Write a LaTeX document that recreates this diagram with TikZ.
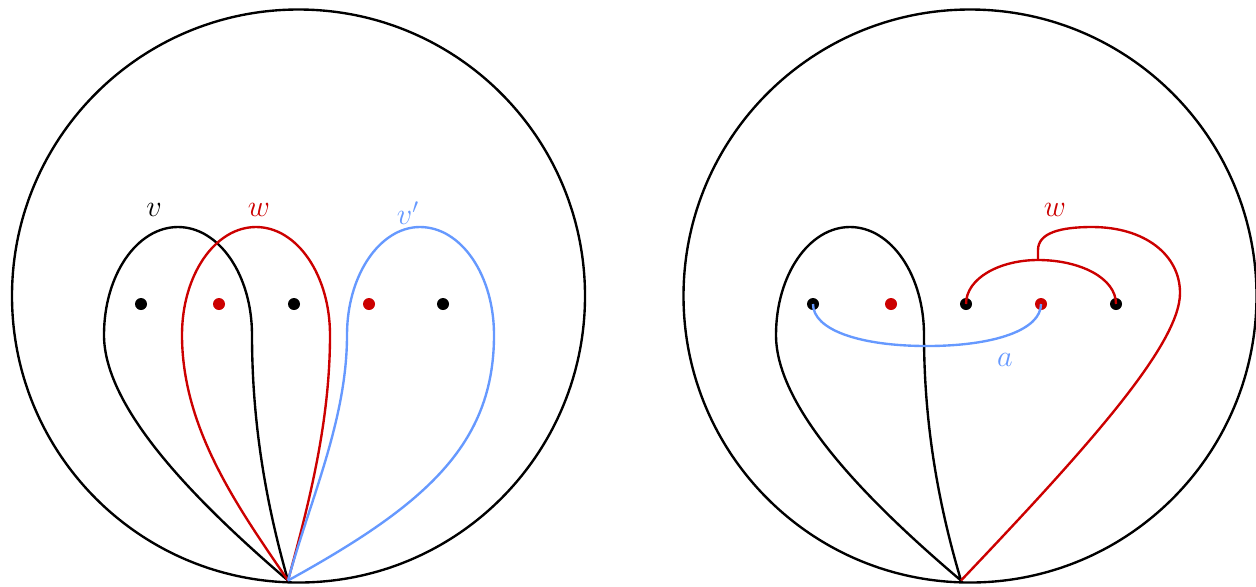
\documentclass[tikz,border=0pt]{standalone}
\usepackage{xcolor}
\definecolor{myred}{HTML}{CC0000}
\definecolor{myblue}{HTML}{6699FF}
\begin{document}
\begin{tikzpicture}[x=0.02cm,y=-0.02cm,
  curve/.style={line width=1.35pt},
  pt/.style={circle,fill,inner sep=0pt,minimum size=0.24cm},
  lab/.style={font=\fontsize{17}{20}\selectfont}]
\useasboundingbox (0,0) rectangle (1256,586);
% circles
\draw[curve] (298.5,296) circle[radius=286.5];
\draw[curve] (970,296) circle[radius=286.5];
\coordinate (bL) at (288,580.5);
\coordinate (bR) at (961,580.5);
% left dots
\node[pt] (l1) at (141,304) {};
\node[pt,myred] (l2) at (219,304) {};
\node[pt] (l3) at (294,304) {};
\node[pt,myred] (l4) at (369,304) {};
\node[pt] (l5) at (443,304) {};
% right dots
\node[pt] (r1) at (813,304) {};
\node[pt,myred] (r2) at (891,304) {};
\node[pt] (r3) at (966,304) {};
\node[pt,myred] (r4) at (1041,304) {};
\node[pt] (r5) at (1116,304) {};
% left: v
\draw[curve] (bL) .. controls (200,505) and (104,410) .. (104,335)
  .. controls (104,275) and (137,227) .. (178,227)
  .. controls (219,227) and (252,275) .. (252,335)
  .. controls (252,420) and (265,500) .. (bL);
% left: w
\draw[curve,myred] (bL) .. controls (240,510) and (182,430) .. (182,335)
  .. controls (182,275) and (215,227) .. (256,227)
  .. controls (297,227) and (330,275) .. (330,335)
  .. controls (330,420) and (310,500) .. (bL);
% left: v'
\draw[curve,myblue] (bL) .. controls (310,500) and (347,420) .. (347,335)
  .. controls (347,275) and (380,227) .. (420,227)
  .. controls (461,227) and (494,275) .. (494,335)
  .. controls (494,445) and (425,505) .. (bL);
\node[lab] (lv) at (154,210) {$v$};
\node[lab,myred] (lw) at (259,210) {$w$};
\node[lab,myblue] (lvp) at (408,213) {$v'$};
% right: black loop
\draw[curve] (bR) .. controls (872,505) and (776,410) .. (776,335)
  .. controls (776,275) and (809,227) .. (850,227)
  .. controls (891,227) and (924,275) .. (924,335)
  .. controls (924,420) and (937,500) .. (bR);
% right: a
\draw[curve,myblue] (r1.center) .. controls (813,330) and (860,346) .. (927,346)
  .. controls (994,346) and (1041,330) .. (r4.center);
% right: w
\draw[curve,myred] (r3.center) .. controls (966,278) and (1000,260) .. (1038,260)
  .. controls (1080,260) and (1116,278) .. (r5.center);
\draw[curve,myred] (1038,260) -- (1038,250)
  .. controls (1038,233) and (1060,227) .. (1092,227)
  .. controls (1145,227) and (1180,255) .. (1180,293)
  .. controls (1180,345) and (1085,450) .. (bR);
\node[lab,myred] (rw) at (1055,210) {$w$};
\node[lab,myblue] (ra) at (1005,360) {$a$};
\end{tikzpicture}
\end{document}
